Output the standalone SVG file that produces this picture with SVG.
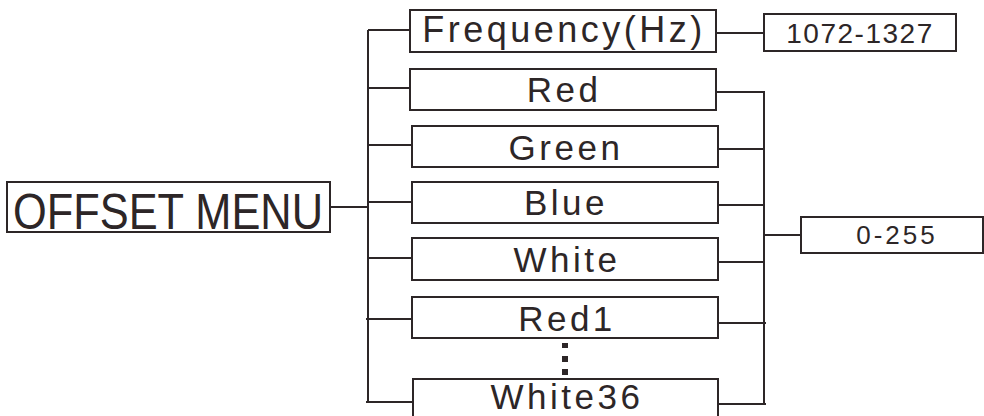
<svg xmlns="http://www.w3.org/2000/svg" width="984" height="416" viewBox="0 0 984 416">
<style>
.box{fill:#fff;stroke:#2d2627;stroke-width:2}
.ln{fill:none;stroke:#2d2627;stroke-width:2}
.t{font-family:"Liberation Sans",Arial,sans-serif;fill:#2d2627;text-anchor:middle}
.m{font-size:35px;letter-spacing:3.5px}
</style>
<rect width="984" height="416" fill="#fff"/>
<g id="connectors">
<path class="ln" d="M330 207H368M368 30V402M368 30H410M368 88H410M368 145H412M368 202H413M368 258H412M366 319H412M366 402H413"/>
<path class="ln" d="M716 33H764M716 92H764V404M718 149H764M718 205H764M718 262H764M718 323H766M718 404H766M764 235H801"/>
</g>
<g id="offset-menu">
<rect class="box" x="7" y="182" width="323" height="50"/>
<text class="t" x="168" y="229" font-size="50" textLength="310" lengthAdjust="spacingAndGlyphs">OFFSET MENU</text>
</g>
<g id="frequency">
<rect class="box" x="410" y="10" width="306" height="42"/>
<text class="t" x="564" y="42" font-size="36" letter-spacing="3.5">Frequency(Hz)</text>
</g>
<g id="freq-range">
<rect class="box" x="764" y="14" width="192" height="37"/>
<text class="t" x="860" y="43" font-size="28" letter-spacing="1.5">1072-1327</text>
</g>
<g id="red">
<rect class="box" x="410" y="69" width="306" height="41"/>
<text class="t m" x="564" y="102">Red</text>
</g>
<g id="green">
<rect class="box" x="412" y="126" width="306" height="41"/>
<text class="t m" x="566" y="160">Green</text>
</g>
<g id="blue">
<rect class="box" x="412" y="182" width="306" height="41"/>
<text class="t m" x="566" y="215">Blue</text>
</g>
<g id="white">
<rect class="box" x="412" y="238" width="306" height="42"/>
<text class="t m" x="567" y="272">White</text>
</g>
<g id="red1">
<rect class="box" x="412" y="297" width="306" height="41"/>
<text class="t m" x="567" y="331">Red1</text>
</g>
<g id="ellipsis">
<rect x="562" y="343" width="6" height="5" fill="#2d2627"/>
<rect x="562" y="356" width="6" height="6" fill="#2d2627"/>
<rect x="562" y="369" width="6" height="6" fill="#2d2627"/>
</g>
<g id="white36">
<rect class="box" x="413" y="379" width="305" height="42"/>
<text class="t m" x="567" y="409">White36</text>
</g>
<g id="range-0-255">
<rect class="box" x="801" y="217" width="182" height="36"/>
<text class="t" x="897" y="244" font-size="26" letter-spacing="3">0-255</text>
</g>
</svg>
